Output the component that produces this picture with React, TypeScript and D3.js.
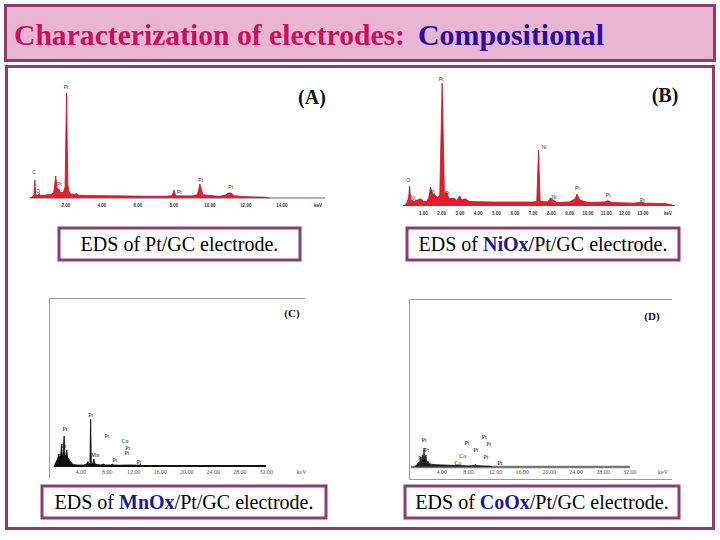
import React from "react";
import * as d3 from "d3";

// ---------- text ----------
const titleMain = "Characterization of electrodes:";
const titleAccent = "Compositional";

const captionA = { pre: "EDS of ", accent: "", post: "Pt/GC electrode." };
const captionB = { pre: "EDS of ", accent: "NiOx/", post: "Pt/GC electrode." };
const captionC = { pre: "EDS of ", accent: "MnOx", post: "/Pt/GC electrode." };
const captionD = { pre: "EDS of ", accent: "CoOx", post: "/Pt/GC electrode." };

// ---------- axis ticks ----------
const ticksA = [2, 4, 6, 8, 10, 12, 14];
const ticksB = [1, 2, 3, 4, 5, 6, 7, 8, 9, 10, 11, 12, 13];
const ticksC = [4, 8, 12, 16, 20, 24, 28, 32];
const ticksD = [4, 8, 12, 16, 20, 24, 28, 32];

// ---------- spectra (keV, relative counts) ----------
const keVA = [0, 0.12, 0.22, 0.27, 0.32, 0.45, 0.52, 0.58, 0.8, 1.0, 1.2, 1.32, 1.43, 1.5, 1.6, 1.7, 1.85, 1.95, 2.03, 2.1, 2.2, 2.45, 2.6, 2.7, 3.5, 4.5, 5.5, 6.5, 7.5, 7.9, 8.0, 8.1, 9.0, 9.3, 9.44, 9.6, 10.5, 10.85, 11.0, 11.15, 11.35, 12.0, 13.0, 13.3];
const cntA = [0, 1, 3, 16.4, 3, 2, 4.5, 2, 2.5, 3, 3.5, 5, 20, 9, 8, 5, 5, 10, 95.5, 12, 4, 3, 4, 2.5, 2.2, 2, 1.8, 1.6, 1.6, 2, 7.3, 2, 1.8, 3, 12.7, 3, 1.5, 2.5, 4.5, 4.5, 2, 1.2, 0.8, 0];

const keVB = [0, 0.1, 0.2, 0.25, 0.32, 0.5, 0.85, 1.0, 1.2, 1.3, 1.4, 1.5, 1.6, 1.75, 1.9, 2.03, 2.15, 2.3, 2.4, 2.7, 2.8, 3.0, 3.1, 3.3, 3.5, 4, 5, 6, 7, 7.2, 7.3, 7.38, 7.8, 7.95, 8.1, 8.3, 9.0, 9.3, 9.4, 9.55, 10, 10.9, 11.1, 11.3, 12.5, 12.95, 13.1, 14.2, 14.6];
const cntB = [0, 2, 6, 15.4, 4, 3, 5, 3, 3, 6, 14.6, 9, 9, 6, 8, 99, 10, 9.8, 5, 5.7, 3.5, 7.3, 4, 5, 3, 2.6, 2.4, 2.4, 2.4, 3, 44.7, 3, 2.5, 5.7, 4, 2, 2.5, 5, 8.9, 4, 2, 2.5, 3.5, 2, 1.5, 2.5, 1.5, 1.2, 0];

const keVC = [0, 0.2, 0.5, 0.65, 0.7, 0.75, 0.9, 1.0, 1.1, 1.2, 1.35, 1.5, 1.6, 1.75, 1.9, 2.0, 2.3, 2.6, 2.9, 3.5, 4.5, 4.9, 5.1, 5.25, 5.4, 5.5, 5.6, 5.8, 6.0, 6.15, 6.5, 7.0, 7.5, 7.7, 8.5, 8.8, 9, 10, 11.5, 12.8, 13.0, 13.2, 14];
const cntC = [0, 3, 7, 10, 12, 9, 10, 12, 22, 11, 11, 30, 11, 10, 16, 9, 6, 3, 1.5, 1, 1, 2, 4.3, 1.5, 3, 46.7, 2, 2, 7, 2, 1.5, 1, 2, 1, 1, 1.8, 1, 0.8, 1, 0.8, 1.5, 0.5, 0];

const keVD = [0, 0.2, 0.45, 0.6, 0.7, 0.9, 1.0, 1.2, 1.3, 1.37, 1.45, 1.67, 1.75, 1.96, 2.1, 2.5, 3, 4, 5, 6, 6.5, 7, 8, 8.9, 9.0, 9.1, 10, 11, 11.5];
const cntD = [0, 1.5, 3, 4.7, 3, 9.7, 4, 11.7, 5, 18.7, 6, 11.7, 4, 5.7, 3, 2.5, 2, 1.8, 1.5, 1.2, 1.6, 1, 0.8, 1, 2.7, 1, 0.8, 0.5, 0];

// ---------- peak labels (text, keV, counts) ----------
const labelsA: [string, number, number][] = [["C", 0.22, 22.7], ["O", 0.46, 5.7], ["Pt", 1.63, 12.5], ["Pt", 2.0, 100], ["Pt", 8.3, 4.8], ["Pt", 9.48, 15.7], ["Pt", 11.15, 9.7]];
const labelsB: [string, number, number][] = [["O", 0.18, 19.5], ["Ni", 0.45, 5.4], ["Pt", 1.51, 10], ["Pt", 1.97, 101.6], ["Pt", 2.31, 8.9], ["Ni", 7.6, 46.3], ["Ni", 8.14, 5.9], ["Pt", 9.42, 13], ["Pt", 11.1, 7.6], ["Pt", 12.97, 3.3]];
const labelsC: [string, number, number][] = [["Pt", 5.51, 50.3], ["Pt", 1.63, 36], ["Pt", 1.48, 19], ["Mn", 6.16, 10], ["Pt", 7.97, 29.3], ["Pt", 9.18, 5.3], ["Cu", 10.69, 24], ["Pt", 11.09, 17.3], ["Pt", 10.99, 12], ["Pt", 12.8, 3.3]];
const labelsD: [string, number, number][] = [["Pt", 1.41, 26], ["Pt", 1.77, 16.4], ["Pt", 0.88, 8.4], ["Pt", 7.77, 22.7], ["Co", 7.13, 10], ["Co", 6.43, 3.4], ["Pt", 9.1, 16.4], ["Pt", 10.34, 29.4], ["Pt", 11.0, 22.4], ["Pt", 10.6, 9], ["Pt", 12.68, 2.7]];

const PURPLE = "#8c3c6e";
const NAVY = "#1c1a8e";

type PanelProps = {
  keV: number[]; cnt: number[]; labels: [string, number, number][];
  ticks: number[]; xDomain: [number, number]; xRange: [number, number];
  yRange: [number, number]; tickY: number; unitX: number;
  fill: string; stroke: string; tickFont: any; labelFont: any; tickDigits: number;
};

function Spectrum(p: PanelProps) {
  const x = d3.scaleLinear().domain(p.xDomain).range(p.xRange);
  const y = d3.scaleLinear().domain([0, 100]).range(p.yRange);
  const pts = p.keV.map((k, i) => [k, p.cnt[i]] as [number, number]);
  const area = d3.area<[number, number]>().x(d => x(d[0])).y0(y(0)).y1(d => y(d[1]));
  const line = d3.line<[number, number]>().x(d => x(d[0])).y(d => y(d[1]));
  return (
    <g>
      <path d={area(pts) || ""} fill={p.fill} />
      <path d={line(pts) || ""} fill="none" stroke={p.stroke} strokeWidth={0.8} />
      {p.labels.map(([t, k, c], i) => (
        <text key={i} x={x(k)} y={y(c)} textAnchor="middle" dominantBaseline="middle" {...p.labelFont}>{t}</text>
      ))}
      {p.ticks.map(t => (
        <text key={"t" + t} x={x(t)} y={p.tickY} textAnchor="middle" dominantBaseline="middle" {...p.tickFont}>{t.toFixed(p.tickDigits)}</text>
      ))}
      <text x={p.unitX} y={p.tickY} textAnchor="middle" dominantBaseline="middle" {...p.tickFont}>keV</text>
    </g>
  );
}

function Caption({ x, y, w, h, c }: { x: number; y: number; w: number; h: number; c: { pre: string; accent: string; post: string } }) {
  return (
    <g>
      <rect x={x} y={y} width={w} height={h} fill="#fff" stroke={PURPLE} strokeWidth={3} />
      <text x={x + w / 2} y={y + h / 2 + 7} textAnchor="middle" fontFamily="'Liberation Serif', 'Times New Roman', serif" fontSize={20} fill="#000">
        <tspan>{c.pre}</tspan>
        {c.accent ? <tspan fill={NAVY} fontWeight="bold">{c.accent}</tspan> : null}
        <tspan>{c.post}</tspan>
      </text>
    </g>
  );
}

export default function App() {
  const sansTick = { fontFamily: "'Liberation Sans', Arial, sans-serif", fontSize: 4.5, fontWeight: "bold", fill: "#333" };
  const sansLabel = { fontFamily: "'Liberation Sans', Arial, sans-serif", fontSize: 5, fill: "#333" };
  const serifTick = { fontFamily: "'Liberation Serif', serif", fontSize: 6, fill: "#555" };
  const serifLabel = { fontFamily: "'Liberation Serif', serif", fontSize: 6, fill: "#222" };
  const serif = "'Liberation Serif', 'Times New Roman', serif";
  return (
    <svg width={720} height={540} style={{ position: "absolute", left: 0, top: 0, background: "#fff" }}>
      {/* title */}
      <rect x={5.5} y={5.5} width={709} height={55} fill="#e8b6d2" stroke={PURPLE} strokeWidth={3} />
      <text x={14} y={45} fontFamily={serif} fontWeight="bold" fontSize={29.5} fill="#c8105c" textLength={391} lengthAdjust="spacingAndGlyphs">{titleMain}</text>
      <text x={418} y={45} fontFamily={serif} fontWeight="bold" fontSize={29.5} fill="#2a0ca0" textLength={186} lengthAdjust="spacingAndGlyphs">{titleAccent}</text>
      {/* main frame */}
      <rect x={6.5} y={66.5} width={707} height={462} fill="#fff" stroke={PURPLE} strokeWidth={3} />

      {/* Panel A */}
      <line x1={30} x2={325} y1={198} y2={198} stroke="#6a5a9a" strokeWidth={1} />
      <Spectrum keV={keVA} cnt={cntA} labels={labelsA} ticks={ticksA} xDomain={[0, 16]} xRange={[30, 318]} yRange={[198, 88]} tickY={206} unitX={318} fill="#e41e2a" stroke="#c0101c" tickFont={sansTick} labelFont={sansLabel} tickDigits={2} />
      <text x={312} y={104} textAnchor="middle" fontFamily={serif} fontWeight="bold" fontSize={20} fill="#111">(A)</text>

      {/* Panel B */}
      <line x1={403} x2={675} y1={205.5} y2={205.5} stroke="#6a4a7a" strokeWidth={1} />
      <Spectrum keV={keVB} cnt={cntB} labels={labelsB} ticks={ticksB} xDomain={[0, 14]} xRange={[405, 661.2]} yRange={[205, 82]} tickY={214} unitX={668} fill="#e41e2a" stroke="#c0101c" tickFont={sansTick} labelFont={sansLabel} tickDigits={2} />
      <text x={665} y={102} textAnchor="middle" fontFamily={serif} fontWeight="bold" fontSize={20} fill="#111">(B)</text>

      {/* Panel C */}
      <line x1={49.5} x2={305} y1={298.5} y2={298.5} stroke="#999" strokeWidth={1} />
      <line x1={49.5} x2={49.5} y1={298.5} y2={478} stroke="#999" strokeWidth={1} />
      <line x1={54} x2={266} y1={466} y2={466} stroke="#111" strokeWidth={1.8} />
      <Spectrum keV={keVC} cnt={cntC} labels={labelsC} ticks={ticksC} xDomain={[0, 32]} xRange={[54.2, 266.2]} yRange={[466, 366]} tickY={473} unitX={301.7} fill="#111" stroke="#000" tickFont={serifTick} labelFont={serifLabel} tickDigits={2} />
      <text x={292} y={316.5} textAnchor="middle" fontFamily={serif} fontWeight="bold" fontSize={11} fill="#111">(C)</text>

      {/* Panel D */}
      <line x1={409.5} x2={672} y1={299.5} y2={299.5} stroke="#999" strokeWidth={1} />
      <line x1={409.5} x2={409.5} y1={299.5} y2={479.5} stroke="#999" strokeWidth={1} />
      <line x1={409.5} x2={672} y1={479.5} y2={479.5} stroke="#999" strokeWidth={1} />
      <line x1={411} x2={630} y1={467} y2={467} stroke="#777" strokeWidth={2.5} />
      <Spectrum keV={keVD} cnt={cntD} labels={labelsD} ticks={ticksD} xDomain={[0, 32]} xRange={[414.8, 629.8]} yRange={[466.7, 366.7]} tickY={473} unitX={663} fill="#222" stroke="#111" tickFont={serifTick} labelFont={serifLabel} tickDigits={2} />
      <text x={652} y={319.5} textAnchor="middle" fontFamily={serif} fontWeight="bold" fontSize={11} fill="#111">(D)</text>

      {/* captions */}
      <Caption x={59} y={228} w={241} h={32} c={captionA} />
      <Caption x={407} y={228} w={272} h={32} c={captionB} />
      <Caption x={42} y={486} w={284} h={32} c={captionC} />
      <Caption x={405} y={486} w={274} h={32} c={captionD} />
    </svg>
  );
}
